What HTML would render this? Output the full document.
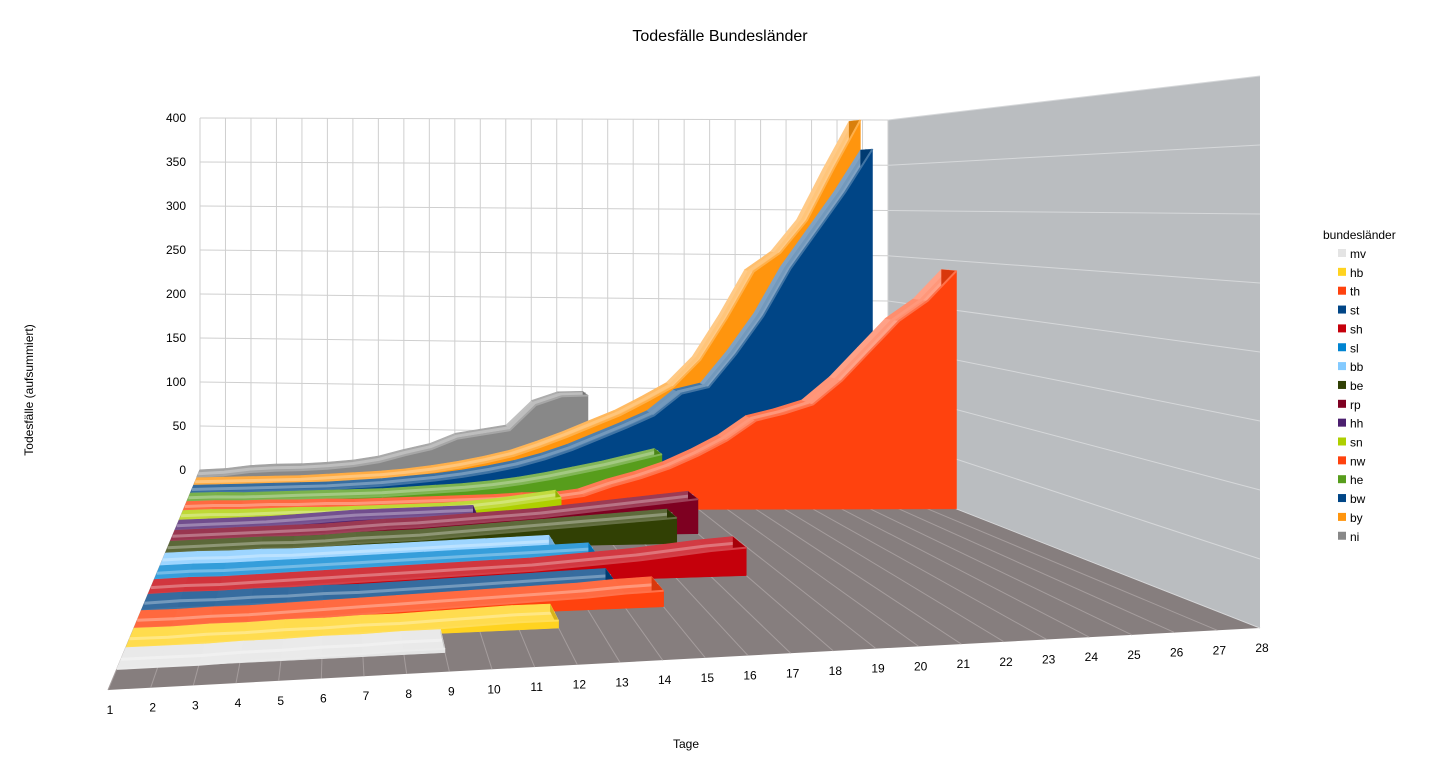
<!DOCTYPE html>
<html><head><meta charset="utf-8"><style>
html,body{margin:0;padding:0;background:#fff;}
svg{display:block;font-family:"Liberation Sans",sans-serif;}
</style></head><body>
<svg id="chart" width="1439" height="770" viewBox="0 0 1439 770" xmlns="http://www.w3.org/2000/svg">
<text x="720" y="41" font-size="16" text-anchor="middle" fill="#000">Todesfälle Bundesländer</text>
<text x="686" y="748" font-size="12" text-anchor="middle" fill="#000">Tage</text>
<text x="0" y="0" font-size="12" text-anchor="middle" fill="#000" transform="translate(33,390) rotate(-90)">Todesfälle (aufsummiert)</text>
<g id="walls"></g>
<g id="series"></g>
<g id="axes"></g>
<g id="legend">
<text x="1323" y="239" font-size="12" fill="#000">bundesländer</text>
</g>
</svg>
<script>
// ---- data ----
const dayLabels = [1,2,3,4,5,6,7,8,9,10,11,12,13,14,15,16,17,18,19,20,21,22,23,24,25,26,27,28];
const yTicks = [0,50,100,150,200,250,300,350,400];
const seriesNames = ["mv","hb","th","st","sh","sl","bb","be","rp","hh","sn","nw","he","bw","by","ni"];
const mv = [0,0,0,1,1,2,2,3,3];
const hb = [0,0,1,1,2,2,3,3,4,5,6,6];
const th = [0,0,1,1,2,3,4,5,6,7,8,9,10,12,13];
const st = [0,1,1,2,2,3,3,4,5,6,7,8,9,10];
const sh = [0,1,1,2,3,4,5,6,7,8,9,10,12,14,16,19,22,24];
const sl = [0,1,1,2,3,4,5,6,7,8,9,10,11,12];
const bb = [0,1,1,2,2,3,4,5,6,7,8,9,10];
const be = [0,1,2,3,3,4,6,7,8,10,12,14,16,18,20,22,24];
const rp = [0,1,2,3,4,5,7,9,10,12,14,16,18,21,24,27,30,33];
const hh = [0,1,2,3,5,7,9,10,11,12,13];
const sn = [0,1,1,2,3,3,4,5,6,7,9,12,16,20];
const nw = [0,1,1,2,2,3,3,4,5,6,7,8,10,10,14,24,32,42,55,70,90,97,106,130,160,190,210,240];
const he = [0,1,1,2,3,4,5,6,8,10,12,15,19,24,30,36,43,50];
const bw = [0,1,2,3,4,5,7,9,12,15,19,24,30,38,48,60,72,85,108,115,150,190,240,280,320,365];
const by = [0,1,2,3,4,6,8,10,13,17,22,28,35,45,56,68,80,95,111,140,185,235,255,290,345,397];
const ni = [1,3,7,9,10,12,15,20,28,35,47,52,57,85,95,96];
const seriesValues = [mv,hb,th,st,sh,sl,bb,be,rp,hh,sn,nw,he,bw,by,ni];
const seriesColors = ["#e4e4e4","#ffd320","#ff420e","#004586","#c5000b","#0084d1","#83caff","#314004","#7e0021","#4b1f6f","#aecf00","#ff420e","#579d1c","#004586","#ff950e","#888888"];

// ---- projection ----
const NS="http://www.w3.org/2000/svg";
const C00=[108,690],C10=[1260,628],C11=[888,482],C01=[200,470];
const S00=1.36,S10=1.38,S11=0.905,S01=0.88;
const lerp=(a,b,t)=>a+(b-a)*t;
function floorPt(u,f){
  const L=[lerp(C00[0],C01[0],f),lerp(C00[1],C01[1],f)];
  const R=[lerp(C10[0],C11[0],f),lerp(C10[1],C11[1],f)];
  return [lerp(L[0],R[0],u),lerp(L[1],R[1],u)];
}
function sc(u,f){return lerp(lerp(S00,S01,f),lerp(S10,S11,f),u);}
function P(u,f,v){const p=floorPt(u,f);return [p[0],p[1]-v*sc(u,f)];}
const depthMap=w=>w*1.9/(1+0.9*w);
const xScale=d=>(d-1)/27;
const NS_=seriesNames.length;

function poly(parent,pts,fill,stroke,sw){
  const e=document.createElementNS(NS,"polygon");
  e.setAttribute("points",pts.map(p=>p[0].toFixed(1)+","+p[1].toFixed(1)).join(" "));
  e.setAttribute("fill",fill);
  if(stroke){e.setAttribute("stroke",stroke);e.setAttribute("stroke-width",sw||1);}
  parent.appendChild(e);return e;
}
function line(parent,a,b,stroke,sw){
  const e=document.createElementNS(NS,"line");
  e.setAttribute("x1",a[0]);e.setAttribute("y1",a[1]);e.setAttribute("x2",b[0]);e.setAttribute("y2",b[1]);
  e.setAttribute("stroke",stroke);e.setAttribute("stroke-width",sw||1);
  parent.appendChild(e);return e;
}
function mix(hex,t){
  const n=parseInt(hex.slice(1),16);let r=n>>16,g=(n>>8)&255,b=n&255;
  const f=c=>Math.round(t>=0?c+(255-c)*t:c*(1+t));
  return "rgb("+f(r)+","+f(g)+","+f(b)+")";
}

// ---- walls ----
const walls=document.getElementById("walls");
const floor=poly(walls,[floorPt(0,0),floorPt(1,0),floorPt(1,1),floorPt(0,1)],"#867e7e");


const side=poly(walls,[floorPt(1,0),floorPt(1,1),P(1,1,400),P(1,0,400)],"#babdc0");


dayLabels.forEach(d=>{
  const l=line(walls,floorPt(xScale(d),0),floorPt(xScale(d),1),"#a59d9d",1);
  
  
  const v=line(walls,P(xScale(d),1,0),P(xScale(d),1,400),"#cfcfcf",1);
  
  
});
yTicks.forEach(t=>{
  const h=line(walls,P(0,1,t),P(1,1,t),"#cfcfcf",1);
  
  
  const s=line(walls,P(1,1,t),P(1,0,t),"#d6d8da",1);
  
  
});

// ---- series (back to front) ----
const sg=document.getElementById("series");
for(let k=NS_-1;k>=0;k--){
  const vals=seriesValues[k],col=seriesColors[k];
  const w0=depthMap((k+0.9)/17),w1=depthMap((k+1.9)/17);
  const g=document.createElementNS(NS,"g");
  
  
  sg.appendChild(g);
  const n=vals.length;
  for(let i=0;i<n-1;i++){
    const u0=xScale(i+1),u1=xScale(i+2);
    const slope=(vals[i+1]-vals[i]);
    const t=Math.min(0.5,0.2+slope*0.01);
    poly(g,[P(u0,w0,vals[i]),P(u1,w0,vals[i+1]),P(u1,w1,vals[i+1]),P(u0,w1,vals[i])],mix(col,t),mix(col,t),0.6);
  }
  const hiPts=[];
  for(let i=0;i<n;i++)hiPts.push(P(xScale(i+1),(w0*0.55+w1*0.45),vals[i]));
  const pl=document.createElementNS(NS,"polyline");
  pl.setAttribute("points",hiPts.map(p=>p[0].toFixed(1)+","+p[1].toFixed(1)).join(" "));
  pl.setAttribute("fill","none");pl.setAttribute("stroke",mix(col,0.45));pl.setAttribute("stroke-width","3");
  g.appendChild(pl);
  const ul=xScale(n);
  poly(g,[P(ul,w0,0),P(ul,w0,vals[n-1]),P(ul,w1,vals[n-1]),P(ul,w1,0)],mix(col,-0.15));
  const fp=[P(xScale(1),w0,0)];
  for(let i=0;i<n;i++)fp.push(P(xScale(i+1),w0,vals[i]));
  fp.push(P(ul,w0,0));
  poly(g,fp,col,col,0.5);
  const tl=document.createElementNS(NS,"polyline");
  tl.setAttribute("points",fp.slice(1,-1).map(p=>p[0].toFixed(1)+","+p[1].toFixed(1)).join(" "));
  tl.setAttribute("fill","none");tl.setAttribute("stroke",mix(col,0.25));tl.setAttribute("stroke-width","2");
  g.appendChild(tl);
}

// ---- axis labels ----
const ax=document.getElementById("axes");
yTicks.forEach(t=>{
  const p=P(0,1,t);
  const e=document.createElementNS(NS,"text");
  
  
  e.setAttribute("x",p[0]-14);e.setAttribute("y",p[1]+4);
  e.setAttribute("font-size","12");e.setAttribute("text-anchor","end");
  e.textContent=t;ax.appendChild(e);
});
dayLabels.forEach(d=>{
  const p=floorPt(xScale(d),0);
  const e=document.createElementNS(NS,"text");
  
  
  e.setAttribute("x",p[0]+2);e.setAttribute("y",p[1]+24);
  e.setAttribute("font-size","12");e.setAttribute("text-anchor","middle");
  e.textContent=d;ax.appendChild(e);
});

// ---- legend ----
const lg=document.getElementById("legend");
seriesNames.forEach((nm,i)=>{
  const y=253+i*18.85;
  const r=document.createElementNS(NS,"rect");
  
  
  r.setAttribute("x",1338);r.setAttribute("y",y-4);r.setAttribute("width",8);r.setAttribute("height",8);
  r.setAttribute("fill",seriesColors[i]);lg.appendChild(r);
  const t=document.createElementNS(NS,"text");
  
  
  t.setAttribute("x",1350);t.setAttribute("y",y+5);t.setAttribute("font-size","12");
  t.textContent=nm;lg.appendChild(t);
});
</script>
</body></html>
